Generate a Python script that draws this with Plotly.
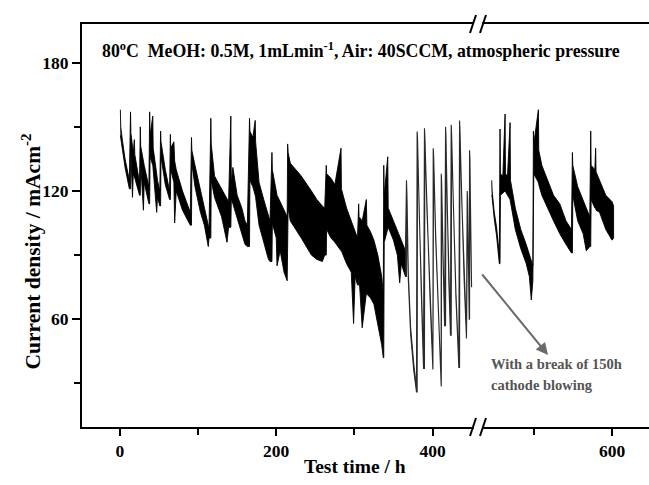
import plotly.graph_objects as go

# ---------------- data ----------------
# Left part of the test (before the 150 h break): time, upper and lower envelope of the signal
LEFT_T = [0.5, 1.0, 3, 6.5, 12,
          13.5, 14, 16, 17, 18.4, 19, 25,
          26, 26.5, 30, 31, 37,
          38, 38.5, 42, 42.5, 47, 48, 51,
          52, 52.5, 58, 63.5,
          64.5, 65, 69, 70, 72, 80, 90,
          91.5, 92, 96, 103, 108, 113, 114,
          116.3, 116.8, 121, 130, 137, 139,
          141.9, 142.5, 144.5, 150, 156, 160, 163,
          165.8, 166.3, 170, 173.1, 173.6, 178, 184, 190, 192,
          194.5, 195, 200, 201, 205, 210, 214,
          214.6, 215.2, 218, 225, 232, 245, 252, 259, 262,
          264, 264.5, 270, 275, 282.9, 283.4, 290, 296, 299, 301, 304,
          305.5, 306, 310, 315.3, 316, 320.5, 325, 330, 335, 337,
          337.6, 338.2, 342.7, 343.3, 350, 355, 358, 360, 365.4,
          366.7, 367.3, 369, 372, 376, 379.5,
          380.3, 380.8, 383, 386, 388.5,
          389.7, 390.2, 393, 397, 400.5,
          400.9, 401.4, 404, 408, 411,
          411.2, 411.7, 413.5, 415.5,
          416.7, 417.2, 419, 421, 423,
          423.9, 424.4, 427, 430, 433.7,
          434.6, 435.1, 437.5, 440.5, 443.5,
          444.4, 444.9, 447,
          447.4, 447.9, 449, 450]
LEFT_HI = [158, 150, 144, 135, 125,
           157, 147, 140, 138, 144, 137, 124,
           150, 141, 134, 132, 122,
           157, 146, 155, 140, 128, 125, 120,
           148, 143, 130, 120,
           146.5, 140, 143, 134, 130, 120, 110,
           145, 139, 132, 120, 112, 104, 103,
           154, 142, 127, 121, 116, 115,
           155, 124, 131, 118, 112, 106, 104,
           154, 148, 145, 153, 143, 124, 116, 108, 106,
           138, 130, 120, 118, 115, 111, 108,
           142, 138, 133, 130, 127, 120, 116, 113, 112,
           132, 128, 126, 123, 140, 121, 112, 106, 102, 100, 98,
           114, 108, 106, 116, 104, 101, 97, 90, 80, 72,
           132, 118, 136, 112, 106, 101, 99, 97, 92,
           125, 118, 82, 56, 39, 28,
           147.8, 145, 110, 70, 40,
           149.3, 146, 110, 70, 39,
           140, 137, 100, 60, 30,
           128, 124, 90, 59,
           150, 146, 110, 78, 54,
           151, 147, 110, 72, 39,
           153, 149, 115, 80, 53,
           120, 116, 62,
           139, 135, 100, 77]
LEFT_LO = [146, 146, 140, 131, 121,
           121, 138, 117, 128, 127, 126, 118,
           118, 133, 111, 124, 114,
           114, 136, 132, 130, 110, 117, 113,
           113, 136, 123, 116,
           116, 130, 124, 105, 120, 111, 104,
           104, 133, 122, 110, 104, 94, 98,
           98, 125, 117, 108, 96, 103,
           103, 116, 114, 108, 100, 95, 94,
           94, 125, 122, 118, 117, 104, 96, 88, 87,
           87, 105, 98, 85, 92, 82, 78,
           78, 112, 106, 102, 98, 90, 88, 87, 90,
           90, 102, 98, 96, 92, 92, 86, 82, 58, 80, 76,
           76, 80, 56, 72, 72, 70, 67, 58, 48, 42,
           42, 96, 102, 103, 97, 90, 77, 86, 80,
           80, 115, 79, 53, 36, 26,
           26, 143, 108, 68, 37,
           37, 144, 108, 68, 36.5,
           36.5, 135, 98, 58, 28.5,
           28.5, 122, 88, 57,
           57, 144, 108, 76, 52.5,
           52.5, 145, 108, 70, 37.5,
           37.5, 147, 113, 78, 51,
           51, 114, 60,
           60, 133, 98, 75]

# Right part of the test (after the break)
RIGHT_T = [445.8, 446.3, 449, 452, 455.5,
           456.4, 456.9, 460, 462.9, 463.4, 466, 469.3, 469.8, 476, 483, 490, 494, 496.5, 498.5,
           499.2, 499.7, 505.6, 506.1, 510, 516, 525, 533, 541, 548,
           549.2, 549.7, 556, 563, 567, 571.5,
           572.7, 573.2, 578, 579, 579.5, 584, 592, 600, 602]
RIGHT_HI = [125, 120, 110, 103, 90,
            149, 128, 127, 156, 128, 127, 152, 125, 112, 102, 95, 90, 87, 85,
            148, 142, 158, 139, 132, 126, 118, 114, 106, 102,
            138, 132, 122, 115, 112, 108,
            148, 132, 130, 140, 129, 125, 118, 115, 113]
RIGHT_LO = [118, 117, 107, 99, 86,
            86, 118, 119, 120, 120, 118, 116, 115, 102, 93, 86, 80, 69, 78,
            78, 128, 124, 123, 118, 113, 106, 100, 95, 91,
            91, 118, 106, 100, 92, 94,
            94, 116, 112, 112, 111, 110, 102, 97, 98]

# start of the large-swing (thin-trace) regime before the break
SWING_START = 366.7

X_TICKS_LEFT = [0, 200, 400]
X_MINOR_LEFT = [100, 300]
X_TICKS_RIGHT = [600]
X_MINOR_RIGHT = [500]
Y_TICKS = [60, 120, 180]
Y_MINOR = [30, 90, 150]

# ---------------- layout constants ----------------
W, H = 649, 485
ML, MR, MT, MB = 82, 0, 24, 58
PW, PH = W - ML - MR, H - MT - MB
FONT = "Liberation Serif"


def px_x(px):
    return (px - ML) / PW


def px_y(py):
    return (H - MB - py) / PH


fig = go.Figure()


def band(ts, his, los, xaxis, color="black", width=0.9):
    xs = list(ts) + list(ts)[::-1]
    ys = list(his) + list(los)[::-1]
    fig.add_trace(go.Scatter(x=xs, y=ys, xaxis=xaxis, yaxis="y", mode="lines",
                             fill="toself", fillcolor=color,
                             line=dict(color=color, width=width),
                             hoverinfo="skip", showlegend=False))


split = next(i for i, t in enumerate(LEFT_T) if t >= SWING_START)
band(LEFT_T[:split], LEFT_HI[:split], LEFT_LO[:split], "x")
band(LEFT_T[split - 1:], LEFT_HI[split - 1:], LEFT_LO[split - 1:], "x", color="#2a2a2a", width=1.1)
band(RIGHT_T, RIGHT_HI, RIGHT_LO, "x2")

tickfont = dict(family=FONT, size=17.5, color="black", weight="bold")
axis_common = dict(showline=True, linecolor="black", linewidth=2, mirror=True,
                   ticks="outside", ticklen=7, tickwidth=2, tickcolor="black",
                   showgrid=False, zeroline=False, tickfont=tickfont)
minor_common = dict(ticks="outside", ticklen=6, tickwidth=2, tickcolor="black", showgrid=False)

left_end_px, right_start_px = 474, 482
fig.update_layout(
    width=W, height=H,
    margin=dict(l=ML, r=MR, t=MT, b=MB),
    paper_bgcolor="white", plot_bgcolor="white",
    xaxis=dict(domain=[0, px_x(left_end_px)], range=[-48.6, 453.1],
               tickmode="array", tickvals=X_TICKS_LEFT,
               minor=dict(tickmode="array", tickvals=X_MINOR_LEFT, **minor_common),
               anchor="y", **axis_common),
    xaxis2=dict(domain=[px_x(right_start_px), 1], range=[433.3, 647.4],
                tickmode="array", tickvals=X_TICKS_RIGHT,
                minor=dict(tickmode="array", tickvals=X_MINOR_RIGHT, **minor_common),
                anchor="y", **axis_common),
    yaxis=dict(range=[9.6, 198.1], tickmode="array", tickvals=Y_TICKS,
               minor=dict(tickmode="array", tickvals=Y_MINOR, **minor_common),
               anchor="x", showline=True, linecolor="black", linewidth=2, mirror=False,
               ticks="outside", ticklen=8, tickwidth=2, tickcolor="black",
               showgrid=False, zeroline=False, tickfont=tickfont),
)

# axis titles
fig.add_annotation(xref="paper", yref="paper", x=px_x(355), y=px_y(479),
                   text="Test time / h", showarrow=False,
                   font=dict(family=FONT, size=19.5, color="black", weight="bold"))
fig.add_annotation(xref="paper", yref="paper", x=px_x(15), y=px_y(252),
                   text="Current density / mAcm<sup>-2</sup>", showarrow=False, textangle=-90,
                   font=dict(family=FONT, size=21.5, color="black", weight="bold"))

# condition text
fig.add_annotation(xref="paper", yref="paper", x=px_x(100), y=px_y(37), xanchor="left",
                   text="80<sup>o</sup>C  MeOH: 0.5M, 1mLmin<sup>-1</sup>, Air: 40SCCM, atmospheric pressure",
                   showarrow=False,
                   font=dict(family=FONT, size=17.8, color="black", weight="bold"))

# arrow and note
fig.add_annotation(xref="paper", yref="paper", x=px_x(548), y=px_y(355),
                   ax=-67, ay=-82, text="", showarrow=True,
                   arrowhead=2, arrowsize=1.2, arrowwidth=2, arrowcolor="#6a6a6a")
fig.add_annotation(xref="paper", yref="paper", x=px_x(489), y=px_y(374), xanchor="left",
                   text="With a break of 150h", showarrow=False,
                   font=dict(family=FONT, size=14.5, color="#555555", weight="bold"))
fig.add_annotation(xref="paper", yref="paper", x=px_x(489), y=px_y(395), xanchor="left",
                   text="cathode blowing", showarrow=False,
                   font=dict(family=FONT, size=14.5, color="#555555", weight="bold"))

# axis-break marks (bottom and top)
for py in (H - MB, MT):
    for cx in (left_end_px - 1, right_start_px + 1):
        fig.add_shape(type="line", xref="paper", yref="paper",
                      x0=px_x(cx - 3), y0=px_y(py + 9), x1=px_x(cx + 3), y1=px_y(py - 9),
                      line=dict(color="black", width=2), layer="above")

fig.write_html("out.html", config={"displayModeBar": False},
               post_script="document.body.style.margin='0';document.body.style.overflow='hidden';")
